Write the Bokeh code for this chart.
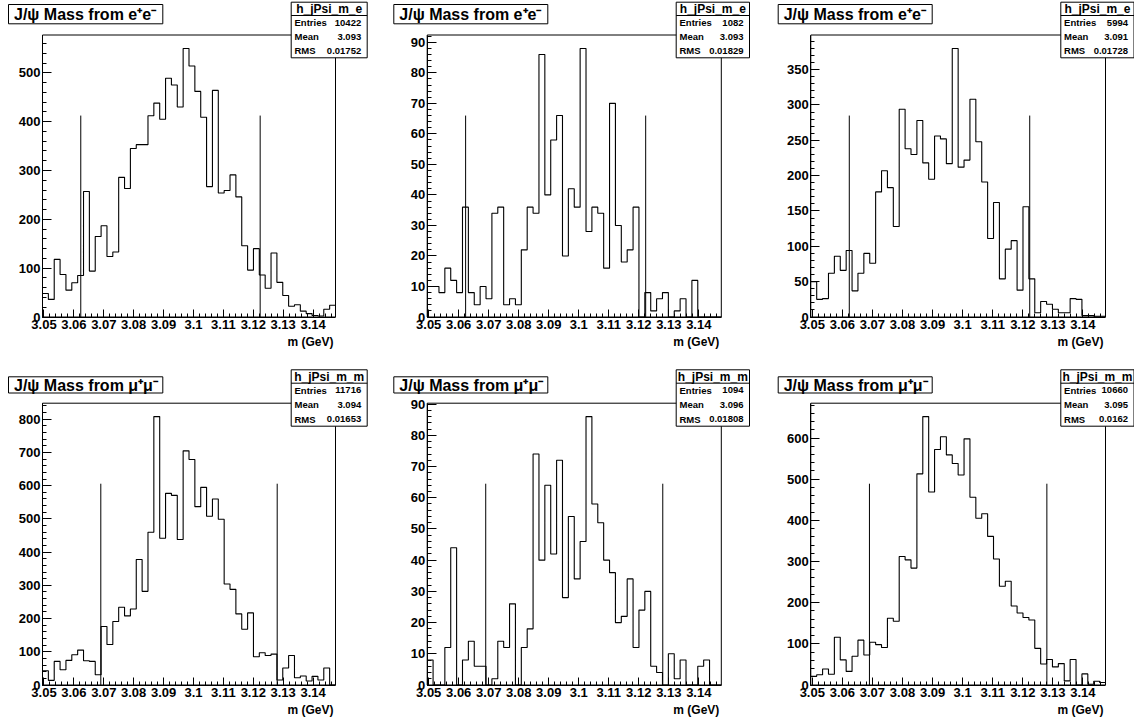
import numpy as np
from bokeh.plotting import figure
from bokeh.layouts import column, row
from bokeh.models import Range1d, LinearAxis, SingleIntervalTicker, CustomJSTickFormatter
from bokeh.embed import file_html
from bokeh.resources import INLINE
from bokeh.core.properties import value

# ---------------- data ----------------
X_MIN, X_MAX = 3.0495, 3.1475
N_BINS = 50

titles = ["J/ψ Mass from e⁺e⁻"] * 3 + ["J/ψ Mass from μ⁺μ⁻"] * 3
hist_names = ["h_jPsi_m_e"] * 3 + ["h_jPsi_m_m"] * 3
entries = ["10422", "1082", "5994", "11716", "1094", "10660"]
means = ["3.093", "3.093", "3.091", "3.094", "3.096", "3.095"]
rms = ["0.01752", "0.01829", "0.01728", "0.01653", "0.01808", "0.0162"]

ee_1 = [48, 36, 118, 87, 55, 70, 85, 257, 94, 165, 187, 124, 133, 286, 263, 345, 353, 353, 412, 438,
        405, 489, 475, 430, 550, 514, 462, 409, 267, 464, 254, 259, 291, 246, 146, 96, 140, 86, 59, 131,
        71, 44, 22, 25, 12, 7, 3, 2, 16, 24]
ee_2 = [10, 10, 8, 16, 12, 8, 36, 8, 4, 10, 6, 34, 36, 4, 6, 4, 22, 36, 34, 86,
        40, 58, 66, 20, 42, 36, 88, 28, 36, 34, 16, 70, 30, 18, 22, 36, 0, 8, 2, 6,
        8, 0, 2, 6, 0, 12, 0, 0, 0, 0]
ee_3 = [50, 25, 26, 62, 86, 66, 94, 37, 62, 90, 76, 177, 207, 183, 128, 294, 238, 230, 278, 218,
        195, 256, 252, 217, 380, 212, 222, 308, 248, 191, 111, 162, 54, 96, 108, 38, 156, 54, 6, 22,
        18, 11, 6, 6, 26, 25, 2, 2, 1, 1]
mm_1 = [43, 14, 71, 46, 74, 91, 105, 73, 71, 31, 176, 122, 191, 234, 208, 229, 378, 282, 460, 808,
        442, 577, 571, 438, 705, 679, 537, 595, 508, 560, 499, 304, 288, 214, 168, 217, 85, 97, 89, 93,
        15, 51, 89, 22, 27, 12, 26, 15, 51, 0]
mm_2 = [8, 0, 0, 12, 44, 0, 8, 14, 6, 6, 0, 2, 14, 12, 26, 0, 12, 18, 74, 40,
        64, 42, 72, 28, 54, 34, 46, 86, 58, 52, 40, 36, 20, 22, 34, 12, 24, 30, 6, 4,
        0, 10, 2, 8, 0, 0, 6, 8, 0, 0]
mm_3 = [21, 25, 39, 26, 116, 61, 33, 70, 109, 73, 104, 98, 91, 162, 155, 312, 304, 284, 513, 652,
        469, 572, 603, 559, 538, 510, 598, 456, 405, 416, 361, 306, 240, 252, 192, 175, 164, 158, 89, 51,
        62, 44, 52, 10, 62, 0, 27, 2, 9, 6]
series = [ee_1, ee_2, ee_3, mm_1, mm_2, mm_3]

cut_lo = [3.0623, 3.0623, 3.0623, 3.0690, 3.0690, 3.0690]
cut_hi = [3.1223, 3.1223, 3.1223, 3.1280, 3.1280, 3.1280]
y_major = [100, 10, 50, 100, 10, 100]

# ---------------- layout (pixels) ----------------
COL_W = [378, 378, 378]
ROW_H = [360, 361]
COL_START = [0, 378, 756]
ROW_START = [0, 360]

FRAME_L = [42, 426.7, 810.3]
FRAME_R = [335, 720.8, 1105]
FRAME_T = [34.5, 402.7]
FRAME_B = [316.5, 684.5]
TBOX_X = [(8, 162.3), (393.3, 547.3), (777.7, 931.7)]
TBOX_Y = [(4, 23.3), (376.3, 392.5)]
SBOX_X = [(290.7, 366.7), (675.7, 749), (1060.3, 1133.5)]
SBOX_Y = [(1.7, 57.3), (369.3, 425.7)]
SBOX_SEP = [15, 382.7]
AXT_Y = [341, 709]

FONT = value("Liberation Sans")

panels = []
for i, counts in enumerate(series):
    r, c = divmod(i, 3)
    W, H = COL_W[c], ROW_H[r]

    def fx(x, c=c):
        return x - COL_START[c]

    def fy(y, r=r):
        return y - ROW_START[r]

    Lf, Rf = fx(FRAME_L[c]), fx(FRAME_R[c])
    Tf, Bf = fy(FRAME_T[r]), fy(FRAME_B[r])
    cmax = max(counts)
    ymax = 1.05 * cmax
    xspan = (X_MAX - X_MIN) * W / (Rf - Lf)
    xstart = X_MIN - Lf * xspan / W
    yspan = ymax * H / (Bf - Tf)
    yend = ymax + Tf * yspan / H
    ystart = yend - yspan

    def dx(px, xstart=xstart, xspan=xspan, W=W):
        return xstart + px / W * xspan

    def dy(py, yend=yend, yspan=yspan, H=H):
        return yend - py / H * yspan

    p = figure(width=W, height=H, x_range=Range1d(xstart, xstart + xspan),
               y_range=Range1d(ystart, yend), output_backend="svg", toolbar_location=None,
               min_border=0, x_axis_location=None, y_axis_location=None,
               outline_line_color=None, background_fill_color="white",
               border_fill_color="white")
    p.grid.visible = False

    # axes
    xaxis = LinearAxis(fixed_location=0, bounds=(X_MIN, X_MAX),
                       ticker=SingleIntervalTicker(interval=0.01, num_minor_ticks=5),
                       formatter=CustomJSTickFormatter(code="return String(Math.round(tick*100)/100);"))
    yaxis = LinearAxis(fixed_location=X_MIN, bounds=(0, ymax),
                       ticker=SingleIntervalTicker(interval=y_major[i], num_minor_ticks=5),
                       formatter=CustomJSTickFormatter(code="return String(Math.round(tick));"))
    for ax, tin, std in ((xaxis, 8, 3), (yaxis, 9, 2)):
        ax.axis_line_color = "black"
        ax.axis_line_width = 1
        ax.major_tick_in = tin
        ax.major_tick_out = 0
        ax.minor_tick_in = 4
        ax.minor_tick_out = 0
        ax.major_tick_line_color = "black"
        ax.minor_tick_line_color = "black"
        ax.major_label_text_font = "Liberation Sans"
        ax.major_label_text_font_style = "bold"
        ax.major_label_text_font_size = "13px"
        ax.major_label_text_color = "black"
        ax.major_label_standoff = std
    p.add_layout(xaxis, "below")
    p.add_layout(yaxis, "left")

    # frame
    p.quad(left=[X_MIN], right=[X_MAX], bottom=[0], top=[ymax], fill_color=None,
           line_color="black", line_width=1)

    # histogram
    edges = np.linspace(X_MIN, X_MAX, N_BINS + 1)
    p.step(x=edges, y=np.append(counts, counts[-1]), mode="after", line_color="black",
           line_width=1.1)

    # cut lines
    p.segment(x0=[cut_lo[i], cut_hi[i]], y0=[0, 0], x1=[cut_lo[i], cut_hi[i]],
              y1=[0.75 * cmax, 0.75 * cmax], line_color="black", line_width=1)

    # axis title
    p.text(x=[dx(fx(FRAME_R[c] - 2))], y=[dy(fy(AXT_Y[r]))], text=["m (GeV)"],
           text_font=FONT, text_font_style="bold", text_font_size="12px",
           text_align="right", text_baseline="middle", text_color="black")

    # title box
    tx0, tx1 = TBOX_X[c]
    ty0, ty1 = TBOX_Y[r]
    p.quad(left=[dx(fx(tx0))], right=[dx(fx(tx1))], top=[dy(fy(ty0))], bottom=[dy(fy(ty1))],
           fill_color="white", line_color="black", line_width=1)
    p.text(x=[dx(fx(tx0 + 5.5))], y=[dy(fy((ty0 + ty1) / 2 + 0.5))], text=[titles[i]],
           text_font=FONT, text_font_style="bold", text_font_size="16px",
           text_align="left", text_baseline="middle", text_color="black")

    # stats box
    sx0, sx1 = SBOX_X[c]
    sy0, sy1 = SBOX_Y[r]
    sep = SBOX_SEP[r]
    p.quad(left=[dx(fx(sx0))], right=[dx(fx(sx1))], top=[dy(fy(sy0))], bottom=[dy(fy(sy1))],
           fill_color="white", line_color="black", line_width=1)
    p.segment(x0=[dx(fx(sx0))], x1=[dx(fx(sx1))], y0=[dy(fy(sep))], y1=[dy(fy(sep))],
              line_color="black", line_width=1)
    p.text(x=[dx(fx((sx0 + sx1) / 2))], y=[dy(fy((sy0 + sep) / 2 + 0.5))], text=[hist_names[i]],
           text_font=FONT, text_font_style="bold", text_font_size="12px",
           text_align="center", text_baseline="middle", text_color="black")
    row_h = (sy1 - sep) / 3
    names = ["Entries", "Mean", "RMS"]
    vals = [entries[i], means[i], rms[i]]
    ys = [dy(fy(sep + row_h * (k + 0.5))) for k in range(3)]
    p.text(x=[dx(fx(sx0 + 3.3))] * 3, y=ys, text=names, text_font=FONT,
           text_font_style="bold", text_font_size="9.5px", text_align="left",
           text_baseline="middle", text_color="black")
    p.text(x=[dx(fx(sx1 - 6))] * 3, y=ys, text=vals, text_font=FONT,
           text_font_style="bold", text_font_size="9.5px", text_align="right",
           text_baseline="middle", text_color="black")

    panels.append(p)

layout = column(row(*panels[:3]), row(*panels[3:]))
open("out.html", "w").write(file_html(layout, INLINE))
